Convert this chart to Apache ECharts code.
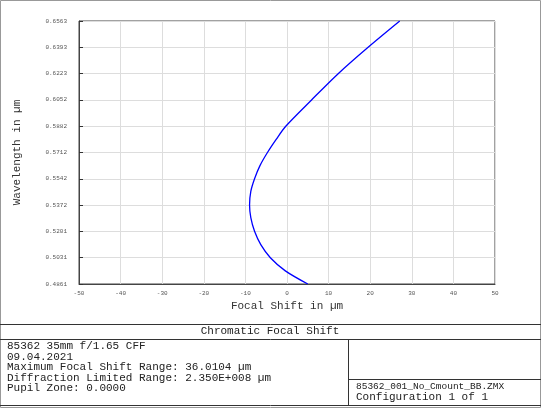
<!DOCTYPE html>
<html><head><meta charset="utf-8">
<script src="https://cdn.jsdelivr.net/npm/echarts@6/dist/echarts.min.js"></script>
<style>html,body{margin:0;padding:0;background:#fff}#c{width:541px;height:408px}</style>
</head><body><div id="c"></div>
<script>
// focal shift (um) vs wavelength (um)
var wavelengths = [0.4861, 0.4946, 0.5031, 0.5116, 0.5202, 0.5290, 0.5372, 0.5460, 0.5542, 0.5627, 0.5712, 0.5797, 0.5882, 0.6052, 0.6222, 0.6393, 0.6563];
var focalShift  = [5.0, -0.4, -4.0, -6.3, -7.8, -8.7, -9.0, -8.7, -7.8, -6.5, -4.7, -2.6, -0.3, 5.9, 12.3, 19.5, 27.1];
var infoLines = ['85362 35mm f/1.65 CFF', '09.04.2021', 'Maximum Focal Shift Range: 36.0104 µm',
  'Diffraction Limited Range: 2.350E+008 µm', 'Pupil Zone: 0.0000'];
var fileLines = ['85362_001_No_Cmount_BB.ZMX', 'Configuration 1 of 1'];

var mono = 'Liberation Mono';
var myChart = echarts.init(document.getElementById('c'));
var data = [];
for (let i = 0; i < wavelengths.length; i++) data.push([focalShift[i], wavelengths[i]]);

var graphics = [
  {type:'rect', shape:{x:0.5,y:0.5,width:540,height:407}, style:{fill:'none',stroke:'#999',lineWidth:1}},
  {type:'line', shape:{x1:0,y1:324.5,x2:541,y2:324.5}, style:{stroke:'#333'}},
  {type:'line', shape:{x1:0,y1:339.5,x2:541,y2:339.5}, style:{stroke:'#333'}},
  {type:'line', shape:{x1:348.5,y1:340,x2:348.5,y2:406}, style:{stroke:'#333'}},
  {type:'line', shape:{x1:348,y1:379.5,x2:541,y2:379.5}, style:{stroke:'#333'}},
  {type:'line', shape:{x1:0,y1:405.5,x2:541,y2:405.5}, style:{stroke:'#333'}},
  {type:'text', x:270, y:326, style:{text:'Chromatic Focal Shift', font:'11px '+mono, fill:'#222', textAlign:'center'}}
];
infoLines.forEach(function(t, i){
  graphics.push({type:'text', x:7, y:341 + i*10.5, style:{text:t, font:'11px '+mono, fill:'#222'}});
});
fileLines.forEach(function(t, i){
  graphics.push({type:'text', x:356, y:381 + i*11, style:{text:t, font:(i ? '11px ' : '9.5px ')+mono, fill:'#222'}});
});

var option = {
  animation: false,
  grid: {left:79, right:46, top:21, bottom:124, show:true, borderColor:'#444', borderWidth:1},
  xAxis: {
    type:'value', min:-50, max:50, interval:10,
    name:'Focal Shift in µm', nameLocation:'middle', nameGap:14,
    nameTextStyle:{fontFamily:mono, fontSize:11, color:'#333'},
    axisLine:{onZero:false, lineStyle:{color:'#444'}},
    axisTick:{show:false},
    axisLabel:{fontSize:6, color:'#555', fontFamily:mono, margin:6},
    splitLine:{lineStyle:{color:'#ddd'}}
  },
  yAxis: {
    type:'value', min:0.4861, max:0.6563, interval:0.01702,
    name:'Wavelength in µm', nameLocation:'middle', nameGap:56,
    nameTextStyle:{fontFamily:mono, fontSize:11, color:'#333'},
    axisLine:{show:true, onZero:false, lineStyle:{color:'#444'}},
    axisTick:{show:true, inside:true, length:4, lineStyle:{color:'#333'}},
    axisLabel:{fontSize:6, color:'#555', fontFamily:mono, margin:12,
      formatter:function(v){ return v.toFixed(4); }},
    splitLine:{lineStyle:{color:'#ddd'}}
  },
  graphic: graphics,
  series: [{
    type:'line', data:data, smooth:0.3, showSymbol:false,
    lineStyle:{color:'#0000ff', width:1.3}
  }]
};
myChart.setOption(option);
</script></body></html>
